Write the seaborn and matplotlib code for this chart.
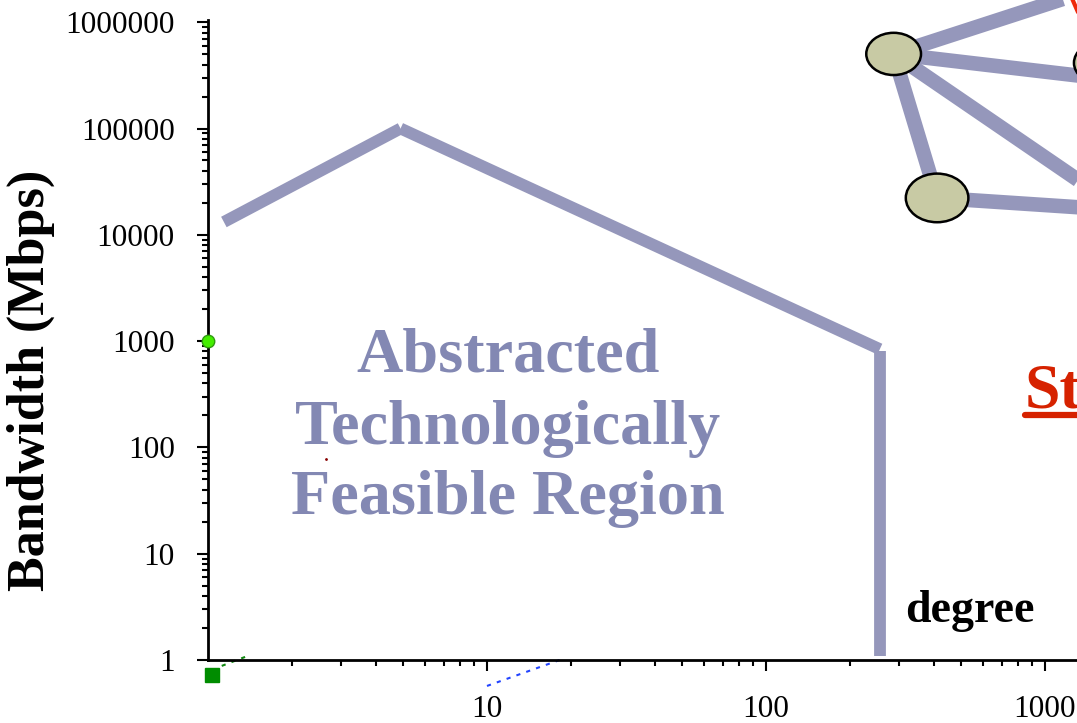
import numpy as np
import pandas as pd
import seaborn as sns
import matplotlib.pyplot as plt
from matplotlib.patches import Ellipse
from matplotlib.lines import Line2D
from matplotlib.ticker import FixedLocator, FixedFormatter, NullFormatter

# feasible region boundary (degree, bandwidth in Mbps)
seg_id = [0, 0, 1, 1, 2, 2]
degree = [1.14, 4.9, 4.9, 256, 256, 256]
bandwidth = [13200, 100000, 100000, 840, 800, 1.1]

y_ticks = [1, 10, 100, 1000, 10000, 100000, 1000000]
y_tick_labels = ["1", "10", "100", "1000", "10000", "100000", "1000000"]
x_ticks = [10, 100, 1000]
x_tick_labels = ["10", "100", "1000"]

# small stray marks
green_dot = (1.0, 1000)
green_square = (1.03, 0.73)
green_dash_x, green_dash_y = [1.12, 1.41], [0.88, 1.11]
blue_dash_x, blue_dash_y = [10, 18.6], [0.57, 1.02]
red_speck = (2.65, 78)

# network sketch in axes fractions
nodes = {"a": (0.789, 0.947, 0.063, 0.066),
         "b": (0.839, 0.722, 0.072, 0.076),
         "c": (1.028, 0.933, 0.063, 0.066)}
edges = [((0.789, 0.947), (1.0725, 1.072)),
         ((0.789, 0.947), (1.084, 0.900)),
         ((0.789, 0.947), (1.084, 0.673)),
         ((0.789, 0.947), (0.839, 0.722)),
         ((0.839, 0.722), (1.084, 0.700))]

line_col = "#9597bb"
text_col = "#8388b3"

sns.set_style("ticks")
plt.rcParams["font.family"] = ["Liberation Serif", "DejaVu Serif"]

fig = plt.figure(figsize=(10.77, 7.23), dpi=100)
ax = fig.add_axes([208 / 1077, 63 / 723, 869 / 1077, 640 / 723])

df = pd.DataFrame({"seg": seg_id, "degree": degree, "bw": bandwidth})
sns.lineplot(data=df, x="degree", y="bw", units="seg", estimator=None, sort=False,
             color=line_col, lw=8.5, ax=ax, solid_capstyle="butt", zorder=3)

ax.set_xscale("log")
ax.set_yscale("log")
ax.set_xlim(1, 1303)
ax.set_ylim(1, 10 ** (640 / 106.3))

ax.yaxis.set_major_locator(FixedLocator(y_ticks))
ax.yaxis.set_major_formatter(FixedFormatter(y_tick_labels))
ax.xaxis.set_major_locator(FixedLocator(x_ticks))
ax.xaxis.set_major_formatter(FixedFormatter(x_tick_labels))
minors = [m * 10 ** d for d in range(0, 6) for m in range(2, 10)]
ax.xaxis.set_minor_locator(FixedLocator([v for v in minors if v < 1303]))
ax.yaxis.set_minor_locator(FixedLocator(minors))
ax.xaxis.set_minor_formatter(NullFormatter())
ax.yaxis.set_minor_formatter(NullFormatter())

ax.tick_params(which="major", length=8, width=1.5, labelsize=22.5, colors="black")
ax.tick_params(axis="y", which="major", pad=16)
ax.tick_params(axis="x", which="major", pad=17)
ax.tick_params(which="minor", length=4.5, width=1.5, colors="black")
for s in ["top", "right"]:
    ax.spines[s].set_visible(False)
for s in ["left", "bottom"]:
    ax.spines[s].set_linewidth(2)
    ax.spines[s].set_color("black")

ax.set_xlabel("")
ax.set_ylabel("Bandwidth (Mbps)", fontsize=37.5, fontweight="bold", color="black")
ax.yaxis.set_label_coords(-0.176, 0.4375)

# region label
for txt, yy in [("Abstracted", 0.45), ("Technologically", 0.3375), ("Feasible Region", 0.228)]:
    ax.text(0.345, yy, txt, transform=ax.transAxes, ha="center", va="baseline",
            fontsize=46.2, fontweight="bold", color=text_col)

ax.text(0.877, 0.059, "degree", transform=ax.transAxes, ha="center", va="baseline",
        fontsize=33, fontweight="bold", color="black")

red = ax.text((1025 - 208) / 869, (660 - 408) / 640, "Standard", transform=ax.transAxes,
              ha="left", va="baseline", fontsize=46, fontweight="bold", color="#d62200",
              clip_on=False)

# stray marks
ax.plot(*green_dot, "o", ms=9, color="#44ee00", mec="#2f9a10", mew=1, clip_on=False, zorder=5)
ax.plot(*green_square, "s", ms=9.5, color="#008c00", clip_on=False, zorder=5)
ax.plot(green_dash_x, green_dash_y, ls=(0, (2, 3)), lw=1.5, color="#118811", clip_on=False)
ax.plot(blue_dash_x, blue_dash_y, ls=(0, (2, 3)), lw=1.5, color="#2244ff", clip_on=False)
ax.plot(*red_speck, ".", ms=2, color="#880000")

# network sketch
for (x0, y0), (x1, y1) in edges:
    ax.plot([x0, x1], [y0, y1], transform=ax.transAxes, color=line_col, lw=10.5,
            solid_capstyle="butt", clip_on=False, zorder=2)
ax.plot([0.99, 1.006], [1.047, 0.997], transform=ax.transAxes, color="#ee2a0a", lw=3,
        clip_on=False, zorder=2)
for cx, cy, w, h in nodes.values():
    ax.add_patch(Ellipse((cx, cy), w, h, transform=ax.transAxes, facecolor="#c8caa4",
                         edgecolor="black", lw=1.8, clip_on=False, zorder=4))

# underline for red heading
fig.canvas.draw()
bb = red.get_window_extent()
W = fig.bbox.width
fig.add_artist(Line2D([bb.x0 / W, 1.0], [(723 - 415) / 723] * 2, transform=fig.transFigure,
                      color="#d62200", lw=4.5))

fig.savefig("out.png", dpi=100)
